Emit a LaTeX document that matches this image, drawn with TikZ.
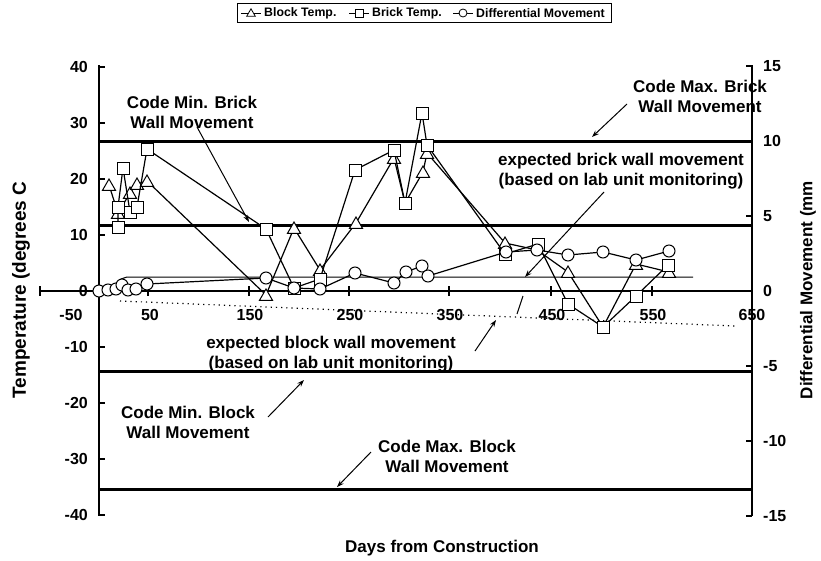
\documentclass[tikz,border=0pt]{standalone}
\usepackage{fontspec}
\setmainfont{Liberation Sans}
\usetikzlibrary{shapes.geometric,arrows.meta}
\begin{document}
\begin{tikzpicture}[x=1pt,y=-1pt,
  font=\bfseries\fontsize{17}{21}\selectfont,
  refline/.style={line width=3pt},
  axisline/.style={line width=1.3pt},
  dataline/.style={line width=1.2pt},
  thinline/.style={line width=1pt},
  dotline/.style={line width=1.2pt, dash pattern=on 1.2pt off 4pt},
  tri/.style={regular polygon, regular polygon sides=3, draw, fill=white, line width=1pt, minimum size=15pt, inner sep=0pt},
  sq/.style={rectangle, draw, fill=white, line width=1pt, minimum size=12pt, inner sep=0pt},
  circ/.style={circle, draw, fill=white, line width=1pt, minimum size=12pt, inner sep=0pt},
  ltri/.style={regular polygon, regular polygon sides=3, draw, fill=white, line width=0.8pt, minimum size=10pt, inner sep=0pt},
  lsq/.style={rectangle, draw, fill=white, line width=0.8pt, minimum size=8pt, inner sep=0pt},
  lcirc/.style={circle, draw, fill=white, line width=0.8pt, minimum size=8pt, inner sep=0pt},
  lbl/.style={align=center, inner sep=0pt, font=\bfseries\fontsize{17}{20}\selectfont},
  ticklbl/.style={inner sep=0pt, font=\bfseries\fontsize{16}{19}\selectfont},
  legtxt/.style={inner sep=0pt, anchor=west, font=\bfseries\fontsize{12.3}{14}\selectfont},
  arr/.style={line width=1pt, -{Stealth[length=7pt,width=5pt]}}
]
\useasboundingbox (0,0) rectangle (821,560);
\fill[white] (0,0) rectangle (821,560);

% ---------- legend ----------
\node[draw, line width=0.8pt, minimum width=374pt, minimum height=19pt, anchor=north west, inner sep=0pt] (legbox) at (237,3) {};
\coordinate (la1) at (241,13); \coordinate (la2) at (261,13);
\draw[thinline] (la1) -- (la2);
\node[ltri] (lt) at (251,13.8) {};
\node[legtxt] (ltxt) at (264,13) {Block Temp.};
\coordinate (lb1) at (349,13); \coordinate (lb2) at (369,13);
\draw[thinline] (lb1) -- (lb2);
\node[lsq] (ls) at (359,13) {};
\node[legtxt] (lstxt) at (372,13) {Brick Temp.};
\coordinate (lc1) at (453,13); \coordinate (lc2) at (473,13);
\draw[thinline] (lc1) -- (lc2);
\node[lcirc] (lc) at (463,13) {};
\node[legtxt] (lctxt) at (476,13) {Differential Movement};

% ---------- reference lines ----------
\coordinate (bxl) at (99,141); \coordinate (bxr) at (752,141);
\coordinate (bnl) at (99,225); \coordinate (bnr) at (752,225);
\coordinate (knl) at (99,371); \coordinate (knr) at (752,371);
\coordinate (kxl) at (99,489); \coordinate (kxr) at (752,489);
\draw[refline] (bxl) -- (bxr);
\draw[refline] (bnl) -- (bnr);
\draw[refline] (knl) -- (knr);
\draw[refline] (kxl) -- (kxr);

% ---------- axes ----------
\coordinate (ylt) at (99,65); \coordinate (ylb) at (99,516);
\coordinate (yrt) at (752,65); \coordinate (yrb) at (752,516);
\coordinate (xl) at (40,291); \coordinate (xr) at (752,291);
\draw[axisline] (ylt) -- (ylb);
\draw[axisline] (yrt) -- (yrb);
\draw[axisline] (xl) -- (xr);
\foreach \yy/\lab in {67/40,123/30,179/20,235/10,291/0,347/-10,403/-20,459/-30,515/-40}{
  \draw[axisline] (99,\yy) -- (105,\yy);
  \node[ticklbl, anchor=east] at (88,\yy) {\lab};
}
\foreach \yy/\lab in {66/15,141/10,216/5,291/0,366/-5,441/-10,516/-15}{
  \draw[axisline] (746,\yy) -- (752,\yy);
  \node[ticklbl, anchor=west] at (763,\yy) {\lab};
}
\foreach \xx in {40,148,249,349,449,551,652,752}{
  \draw[axisline] (\xx,286) -- (\xx,296);
}
\foreach \xx/\lab in {71/-50,150/50,250/150,350/250,450/350,552/450,653/550,752/650}{
  \node[ticklbl] at (\xx,315) {\lab};
}

% ---------- axis titles ----------
\node[ticklbl, rotate=90, font=\bfseries\fontsize{19}{22}\selectfont] (ytitle) at (21,290) {Temperature (degrees C};
\node[ticklbl, rotate=90, font=\bfseries\fontsize{17}{20}\selectfont] (y2title) at (808,290) {Differential Movement (mm};
\node[ticklbl, font=\bfseries\fontsize{17}{20}\selectfont] (xtitle) at (442,548) {Days from Construction};

% ---------- expected movement lines ----------
\coordinate (eb0) at (117,288); \coordinate (eb1) at (121,279); \coordinate (eb2) at (127,277); \coordinate (eb3) at (693,277);
\draw[thinline] (eb0) -- (eb1) -- (eb2) -- (eb3);
\coordinate (ek0) at (120,301); \coordinate (ek1) at (735,326);
\draw[dotline] (ek0) -- (ek1);

% ---------- Block Temp (triangles) ----------
\foreach \n/\x/\y in {1/109/185,2/118/213,3/130/193,4/137/184,5/147/181,6/266/295,7/294/228,8/320/270,9/356/223,10/394/158,11/405/203,12/423/172,13/427/153,14/505/243,15/537/250,16/568/272,17/603/327,18/636/264,19/669/272}{
  \coordinate (t\n) at (\x,\y);
}
\draw[dataline] (t1) -- (t2) -- (t3) -- (t4) -- (t5) -- (t6) -- (t7) -- (t8) -- (t9) -- (t10) -- (t11) -- (t12) -- (t13) -- (t14) -- (t15) -- (t16) -- (t17) -- (t18) -- (t19);
\foreach \n in {1,2,3,4,5,6,7,8,9,10,12,13,14,16,18,19}{
  \node[tri] (T\n) at ([yshift=-1.5pt]t\n) {};
}

% ---------- Brick Temp (squares) ----------
\foreach \n/\x/\y in {1/118/227,2/118/207,3/123/168,4/130/212,5/137/207,6/147/149,7/266/229,8/294/288,9/320/279,10/355/170,11/394/150,12/405/203,13/422/113,14/427/145,15/505/254,16/538/244,17/568/304,18/603/327,19/636/296,20/668/265}{
  \coordinate (s\n) at (\x,\y);
}
\draw[dataline] (s1) -- (s2) -- (s3) -- (s4) -- (s5) -- (s6) -- (s7) -- (s8) -- (s9) -- (s10) -- (s11) -- (s12) -- (s13) -- (s14) -- (s15) -- (s16) -- (s17) -- (s18) -- (s19) -- (s20);
\foreach \n in {1,...,20}{
  \node[sq] (S\n) at (s\n) {};
}

% ---------- Differential Movement (circles) ----------
\foreach \n/\x/\y in {1/99/291,2/108/290,3/116/289,4/122/285,5/128/290,6/136/289,7/147/284,8/266/278,9/294/288,10/320/289,11/355/273,12/394/283,13/406/272,14/422/266,15/428/276,16/506/252,17/537/250,18/568/255,19/603/252,20/636/260,21/669/251}{
  \coordinate (c\n) at (\x,\y);
}
\draw[dataline] (c1) -- (c2) -- (c3) -- (c4) -- (c5) -- (c6) -- (c7) -- (c8) -- (c9) -- (c10) -- (c11) -- (c12) -- (c13) -- (c14) -- (c15) -- (c16) -- (c17) -- (c18) -- (c19) -- (c20) -- (c21);
\foreach \n in {1,...,21}{
  \node[circ] (C\n) at (c\n) {};
}

% ---------- annotations ----------
\node[lbl] (cminbr) at (192,112) {Code Min. Brick\\Wall Movement};
\coordinate (cminbr-t) at (197,127); \coordinate (cminbr-h) at (249,222);
\draw[arr] (cminbr-t) -- (cminbr-h);

\node[lbl] (cmaxbr) at (700,96) {Code Max. Brick\\Wall Movement};
\coordinate (cmaxbr-t) at (627,104); \coordinate (cmaxbr-h) at (592,137);
\draw[arr] (cmaxbr-t) -- (cmaxbr-h);

\node[lbl] (expbr) at (621,171) {expected brick wall movement\\(based on lab unit monitoring)};
\coordinate (expbr-t) at (604,192); \coordinate (expbr-h) at (525,277);
\draw[arr] (expbr-t) -- (expbr-h);

\node[lbl] (expbl) at (331,354) {expected block wall movement\\(based on lab unit monitoring)};
\coordinate (expbl-t) at (475,351); \coordinate (expbl-h) at (496,320);
\draw[arr] (expbl-t) -- (expbl-h);
\coordinate (seg-a) at (517,314); \coordinate (seg-b) at (523,296);
\draw[thinline] (seg-a) -- (seg-b);

\node[lbl] (cminbl) at (188,422) {Code Min. Block\\Wall Movement};
\coordinate (cminbl-t) at (268,417); \coordinate (cminbl-h) at (304,380);
\draw[arr] (cminbl-t) -- (cminbl-h);

\node[lbl] (cmaxbl) at (447,456) {Code Max. Block\\Wall Movement};
\coordinate (cmaxbl-t) at (371,452); \coordinate (cmaxbl-h) at (337,487);
\draw[arr] (cmaxbl-t) -- (cmaxbl-h);
\end{tikzpicture}
\end{document}
